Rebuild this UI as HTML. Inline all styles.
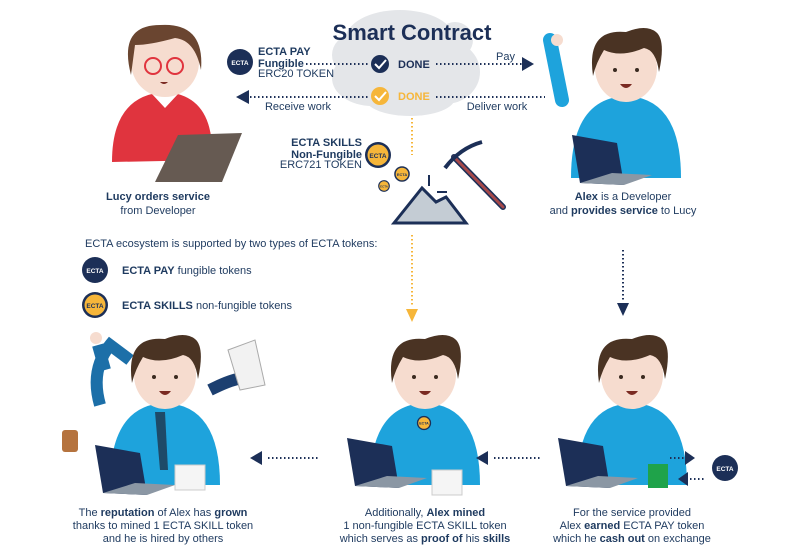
<!DOCTYPE html>
<html><head><meta charset="utf-8"><style>
html,body{margin:0;padding:0;background:#fff;}
svg{display:block;font-family:"Liberation Sans",sans-serif;}
.t{fill:#1e3a5f;font-size:11px;}
.b{font-weight:bold;}
</style></head><body>
<svg width="809" height="555" viewBox="0 0 809 555" xmlns="http://www.w3.org/2000/svg">
<defs>
<g id="alex">
  <path d="M-55,110 Q-55,30 0,28 Q55,30 55,110 Z" fill="#1ea3dc"/>
  <ellipse cx="0" cy="0" rx="31" ry="34" fill="#f6dccf"/>
  <path d="M-33,8 Q-40,-40 0,-36 Q20,-44 30,-36 Q40,-28 33,4 Q30,-18 18,-20 Q-5,-10 -22,-18 Q-30,-5 -33,8Z" fill="#4a3323"/>
  <circle cx="-11" cy="2" r="2" fill="#3a2a20"/><circle cx="11" cy="2" r="2" fill="#3a2a20"/>
  <path d="M-6,16 Q0,24 6,16 Z" fill="#7a2a22"/>
</g>
<g id="laptop">
  <path d="M0,0 L45,8 L52,50 L8,48 Z" fill="#1c2f57"/>
  <path d="M8,48 L52,50 L80,40 L40,38 Z" fill="#8b97a4"/>
</g>
<g id="coinN"><circle r="13" fill="#1c2f57"/><text y="3" text-anchor="middle" fill="#fff" font-size="6.5" font-weight="bold">ECTA</text></g>
<g id="coinY"><circle r="13" fill="#1c2f57"/><circle r="10.5" fill="#f6b63a"/><text y="3" text-anchor="middle" fill="#1c2f57" font-size="6.5" font-weight="bold">ECTA</text></g>
</defs>

<!-- cloud -->
<g fill="#e4e6e9">
<ellipse cx="400" cy="40" rx="55" ry="30"/><ellipse cx="445" cy="72" rx="35" ry="32"/>
<ellipse cx="372" cy="78" rx="40" ry="28"/><ellipse cx="410" cy="98" rx="45" ry="18"/>
<ellipse cx="352" cy="55" rx="20" ry="20"/><ellipse cx="455" cy="40" rx="18" ry="18"/>
</g>
<text x="412" y="40" text-anchor="middle" font-size="22" font-weight="bold" fill="#1c2f57">Smart Contract</text>
<circle cx="380" cy="64" r="9" fill="#1c2f57"/><path d="M375,64 l4,4 l7,-8" stroke="#fff" stroke-width="2" fill="none"/>
<text x="398" y="68" font-size="11" font-weight="bold" fill="#1c2f57">DONE</text>
<circle cx="380" cy="96" r="9" fill="#f6b63a"/><path d="M375,96 l4,4 l7,-8" stroke="#fff" stroke-width="2" fill="none"/>
<text x="398" y="100" font-size="11" font-weight="bold" fill="#f6b63a">DONE</text>

<text x="496" y="60" class="t" font-size="10">Pay</text>
<text x="298" y="110" class="t" font-size="10" text-anchor="middle">Receive work</text>
<text x="497" y="110" class="t" font-size="10" text-anchor="middle">Deliver work</text>

<use href="#coinN" x="240" y="62"/>
<text x="258" y="55" class="t b" font-size="11">ECTA PAY</text>
<text x="258" y="67" class="t b" font-size="11">Fungible</text>
<text x="258" y="77" class="t" font-size="7.5">ERC20 TOKEN</text>

<text x="362" y="146" class="t b" font-size="11" text-anchor="end">ECTA SKILLS</text>
<text x="362" y="158" class="t b" font-size="11" text-anchor="end">Non-Fungible</text>
<text x="362" y="168" class="t" font-size="7.5" text-anchor="end">ERC721 TOKEN</text>
<use href="#coinY" x="378" y="155"/>
<g transform="translate(402,174) scale(0.6)"><use href="#coinY"/></g>
<g transform="translate(384,186) scale(0.45)"><use href="#coinY"/></g>

<!-- pickaxe & rock -->
<path d="M394,223 L422,188 L436,202 L446,197 L466,223 Z" fill="#c4ccd4" stroke="#1c2f57" stroke-width="3"/>
<line x1="454" y1="157" x2="503" y2="207" stroke="#1c2f57" stroke-width="6" stroke-linecap="round"/>
<line x1="454" y1="157" x2="503" y2="207" stroke="#a5484a" stroke-width="3" stroke-linecap="round"/>
<path d="M445,168 Q460,148 482,142" stroke="#1c2f57" stroke-width="4" fill="none"/>
<line x1="429" y1="175" x2="429" y2="186" stroke="#1c2f57" stroke-width="2"/>
<line x1="437" y1="192" x2="447" y2="192" stroke="#1c2f57" stroke-width="2"/>

<g stroke="#f6b63a" stroke-width="2" stroke-dasharray="1.5,2.5">
<line x1="412" y1="118" x2="412" y2="155"/><line x1="412" y1="235" x2="412" y2="306"/>
</g>
<path d="M406,309 L412,322 L418,309Z" fill="#f6b63a"/>

<!-- Lucy -->
<path d="M112,162 Q112,95 165,92 Q215,95 212,160 Z" fill="#e0343e"/>
<path d="M152,94 L165,108 L178,94Z" fill="#fff"/>
<ellipse cx="165" cy="62" rx="34" ry="35" fill="#f6dccf"/>
<path d="M131,75 Q118,25 160,25 Q205,22 201,70 Q195,40 175,38 Q150,45 135,45 Z" fill="#6a4530"/>
<circle cx="153" cy="66" r="8" fill="none" stroke="#e0343e" stroke-width="2"/>
<circle cx="175" cy="66" r="8" fill="none" stroke="#e0343e" stroke-width="2"/>
<path d="M160,82 Q164,86 168,82Z" fill="#7a2a22"/>
<path d="M178,135 L242,133 L222,182 L155,182 Z" fill="#665a52"/>
<text x="158" y="200" class="t b" text-anchor="middle" font-size="11">Lucy orders service</text>
<text x="158" y="214" class="t" text-anchor="middle" font-size="11">from Developer</text>

<!-- Alex top -->
<path d="M562,100 L550,40" stroke="#1ea3dc" stroke-width="14" stroke-linecap="round"/>
<circle cx="557" cy="40" r="6" fill="#f6dccf"/>
<use href="#alex" x="626" y="68"/>
<g transform="translate(572,135)"><use href="#laptop"/></g>
<text x="623" y="200" class="t" text-anchor="middle" font-size="11"><tspan class="b">Alex</tspan> is a Developer</text>
<text x="623" y="214" class="t" text-anchor="middle" font-size="11">and <tspan class="b">provides service</tspan> to Lucy</text>

<!-- legend -->
<text x="85" y="247" class="t" font-size="11">ECTA ecosystem is supported by two types of ECTA tokens:</text>
<use href="#coinN" x="95" y="270"/>
<text x="122" y="274" class="t" font-size="11"><tspan class="b">ECTA PAY</tspan> fungible tokens</text>
<use href="#coinY" x="95" y="305"/>
<text x="122" y="309" class="t" font-size="11"><tspan class="b">ECTA SKILLS</tspan> non-fungible tokens</text>

<!-- bottom left -->
<path d="M100,405 Q90,370 110,345 L130,360" stroke="#1c6fa8" stroke-width="12" fill="none"/>
<path d="M210,390 Q250,370 248,385" stroke="#1c3f70" stroke-width="12" fill="none"/>
<path d="M105,370 L98,345" stroke="#1c6fa8" stroke-width="12"/>
<circle cx="96" cy="338" r="6" fill="#f6dccf"/>
<rect x="62" y="430" width="16" height="22" rx="3" fill="#b5733e"/>
<path d="M228,350 L255,340 L265,385 L240,390Z" fill="#f2f2f2" stroke="#aaa"/>
<use href="#alex" x="165" y="375"/>
<path d="M155,412 L165,412 L168,470 L160,470 Z" fill="#1e4a68"/>
<g transform="translate(95,445)"><use href="#laptop"/></g>
<rect x="175" y="465" width="30" height="25" fill="#f5f5f5" stroke="#ccc"/>
<text x="163" y="516" class="t" text-anchor="middle" font-size="11">The <tspan class="b">reputation</tspan> of Alex has <tspan class="b">grown</tspan></text>
<text x="163" y="529" class="t" text-anchor="middle" font-size="11">thanks to mined 1 ECTA SKILL token</text>
<text x="163" y="542" class="t" text-anchor="middle" font-size="11">and he is hired by others</text>

<!-- bottom middle -->
<use href="#alex" x="425" y="375"/>
<g transform="translate(424,423) scale(0.55)"><use href="#coinY"/></g>
<g transform="translate(347,438)"><use href="#laptop"/></g>
<rect x="432" y="470" width="30" height="25" fill="#f5f5f5" stroke="#ccc"/>
<text x="425" y="516" class="t" text-anchor="middle" font-size="11">Additionally, <tspan class="b">Alex mined</tspan></text>
<text x="425" y="529" class="t" text-anchor="middle" font-size="11">1 non-fungible ECTA SKILL token</text>
<text x="425" y="542" class="t" text-anchor="middle" font-size="11">which serves as <tspan class="b">proof of</tspan> his <tspan class="b">skills</tspan></text>

<!-- bottom right -->
<use href="#alex" x="632" y="375"/>
<g transform="translate(558,438)"><use href="#laptop"/></g>
<rect x="648" y="464" width="20" height="24" fill="#1fa34a"/>
<use href="#coinN" x="725" y="468"/>
<text x="632" y="516" class="t" text-anchor="middle" font-size="11">For the service provided</text>
<text x="632" y="529" class="t" text-anchor="middle" font-size="11">Alex <tspan class="b">earned</tspan> ECTA PAY token</text>
<text x="632" y="542" class="t" text-anchor="middle" font-size="11">which he <tspan class="b">cash out</tspan> on exchange</text>

<!-- connectors on top -->
<g stroke="#1c2f57" stroke-width="2" stroke-dasharray="1.5,2.5" fill="none">
<line x1="306" y1="64" x2="368" y2="64"/><line x1="436" y1="64" x2="522" y2="64"/>
<line x1="250" y1="97" x2="368" y2="97"/><line x1="436" y1="97" x2="545" y2="97"/>
<line x1="623" y1="250" x2="623" y2="300"/>
<line x1="268" y1="458" x2="318" y2="458"/><line x1="494" y1="458" x2="540" y2="458"/>
<line x1="670" y1="458" x2="684" y2="458"/><line x1="690" y1="479" x2="704" y2="479"/>
</g>
<g fill="#1c2f57">
<path d="M522,57 L534,64 L522,71Z"/><path d="M249,90 L236,97 L249,104Z"/>
<path d="M617,303 L623,316 L629,303Z"/><path d="M262,451 L250,458 L262,465Z"/>
<path d="M488,451 L476,458 L488,465Z"/><path d="M685,451 L695,458 L685,465Z"/><path d="M688,472 L678,479 L688,486Z"/>
</g>
</svg>
</body></html>
